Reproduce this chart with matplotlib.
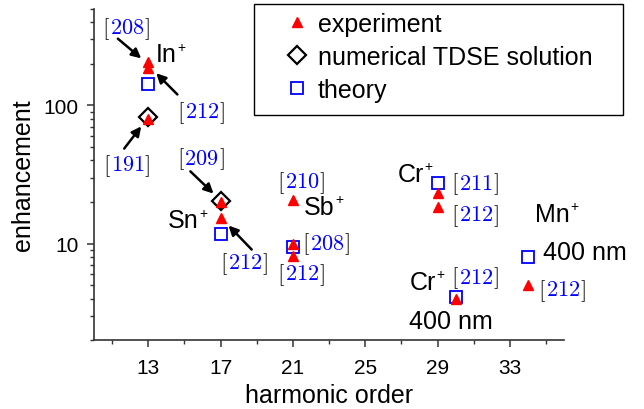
import matplotlib.pyplot as plt
from matplotlib.patches import Rectangle
from matplotlib.offsetbox import TextArea, HPacker, AnnotationBbox
from matplotlib.ticker import NullFormatter

plt.rcParams['font.family'] = ['Liberation Sans', 'DejaVu Sans']
plt.rcParams['mathtext.fontset'] = 'cm'

# experiment
exp_order = [13, 13, 13, 17, 17, 21, 21, 21, 29, 29, 30, 34]
exp_enh = [205, 188, 80, 20, 15.2, 20.5, 10, 8.1, 23.3, 18.3, 4.0, 5.05]
# numerical TDSE solution
tdse_order = [13, 17]
tdse_enh = [83, 20.2]
# theory
theo_order = [13, 17, 21, 29, 30, 34]
theo_enh = [144, 11.8, 9.5, 27.5, 4.1, 8.0]

xticks = [13, 17, 21, 25, 29, 33]

# reference numbers and where they sit (data coords, centre)
refs = [("208", 11.78, 361), ("212", 15.89, 89), ("191", 11.78, 37.3),
        ("209", 15.89, 41.3), ("212", 18.28, 7.2), ("210", 21.44, 27.7),
        ("208", 22.83, 10.0), ("212", 21.44, 6.06), ("211", 31.06, 27.2),
        ("212", 31.06, 16.2), ("212", 31.06, 5.68), ("212", 35.89, 4.64)]
# ion names (left edge, centre)
ions = [("In", 13.39, 234), ("Sn", 14.1, 14.7), ("Sb", 21.6, 18.5),
        ("Cr", 26.8, 32.1), ("Mn", 34.4, 16.5), ("Cr", 27.45, 5.3)]
notes = [("400 nm", 37.17, 8.75), ("400 nm", 29.72, 2.77)]
# arrows: tail -> head
arrows = [((11.32, 304), (12.61, 219)), ((14.61, 120), (13.44, 171)),
          ((11.67, 48.7), (12.61, 70.5)), ((15.33, 33.3), (16.61, 23.0)),
          ((18.72, 9.05), (17.44, 13.5))]

fig = plt.figure(figsize=(6.44, 4.10), dpi=100)
ax = fig.add_axes([0.146, 0.168, 0.730, 0.808])

ax.plot(theo_order, theo_enh, ls='none', marker='s', ms=8, mfc='none',
        mec='blue', mew=1.3, label='theory', zorder=3)
ax.plot(tdse_order, tdse_enh, ls='none', marker='D', ms=9.5, mfc='none',
        mec='black', mew=1.6, label='numerical TDSE solution', zorder=4)
ax.plot(exp_order, exp_enh, ls='none', marker='^', ms=7.5, color='red',
        label='experiment', zorder=5)

ax.set_yscale('log')
ax.set_xlim(10, 36)
ax.set_ylim(2, 500)
ax.set_xticks(xticks)
ax.set_xticks(range(11, 37, 4), minor=True)
ax.yaxis.set_minor_formatter(NullFormatter())
ax.set_yticks([10, 100])
ax.set_yticklabels(['10', '100'])

for s in ['top', 'right']:
    ax.spines[s].set_visible(False)
for s in ['left', 'bottom']:
    ax.spines[s].set_color('#333333')
    ax.spines[s].set_linewidth(1.2)
ax.tick_params(which='major', direction='out', length=5, width=1.1,
               color='#333333', labelsize=15, pad=6)
ax.tick_params(which='minor', direction='out', length=3, width=1.0,
               color='#333333')
ax.tick_params(axis='x', which='major', pad=8)

ax.set_xlabel('harmonic order', fontsize=18, labelpad=4)
ax.set_ylabel('enhancement', fontsize=18, labelpad=6)

for num, x, y in refs:
    parts = [TextArea(r"$[$", textprops=dict(color='black', fontsize=16.5)),
             TextArea(r"$%s$" % num, textprops=dict(color='blue', fontsize=16)),
             TextArea(r"$]$", textprops=dict(color='black', fontsize=16.5))]
    box = HPacker(children=parts, align='baseline', pad=0, sep=0)
    ab = AnnotationBbox(box, (x, y), xycoords='data', frameon=False, pad=0,
                        box_alignment=(0.5, 0.5))
    ax.add_artist(ab)

for name, x, y in ions:
    t = ax.text(x, y, name, fontsize=18, ha='left', va='center')
    ax.annotate('+', xy=(1, 1), xycoords=t, xytext=(0.5, 2),
                textcoords='offset points', fontsize=10, ha='left', va='top')

for txt, x, y in notes:
    ax.text(x, y, txt, fontsize=18, ha='center', va='center')

for tail, head in arrows:
    ax.annotate('', xy=head, xytext=tail,
                arrowprops=dict(arrowstyle='-|>', color='black', lw=1.8,
                                mutation_scale=14, shrinkA=0, shrinkB=0))

handles, labels = ax.get_legend_handles_labels()
order = [2, 1, 0]
ax.legend([handles[i] for i in order], [labels[i] for i in order],
          loc='upper left', bbox_to_anchor=(0.4418, 0.969),
          bbox_transform=fig.transFigure, frameon=False, fontsize=18,
          borderpad=0, borderaxespad=0, handlelength=1.0,
          handletextpad=0.34, labelspacing=0.36)
fig.patches.append(Rectangle((254 / 644, 1 - 116 / 410), 369 / 644, 111 / 410,
                             transform=fig.transFigure, fill=False,
                             edgecolor='black', lw=1.0, zorder=10))

fig.savefig('out.png', dpi=100)
